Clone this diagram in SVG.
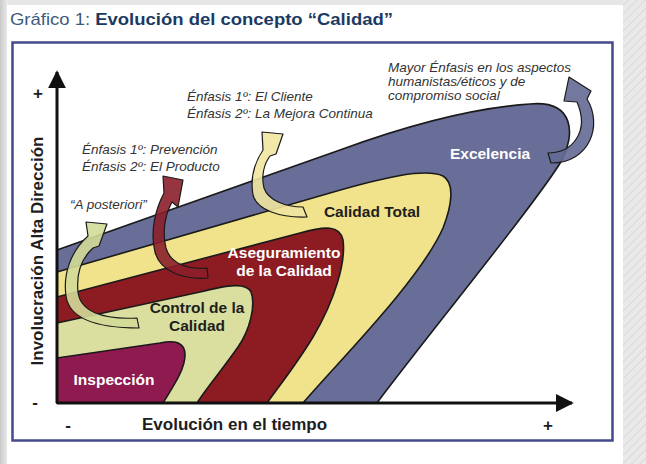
<svg xmlns="http://www.w3.org/2000/svg" width="646" height="464" viewBox="0 0 646 464">
<defs>
<linearGradient id="leftbg" x1="0" y1="0" x2="1" y2="0">
<stop offset="0" stop-color="#c9c9c9"/><stop offset="1" stop-color="#ededed"/>
</linearGradient>
<pattern id="hatch" width="6" height="6" patternUnits="userSpaceOnUse" patternTransform="rotate(45)">
<rect width="6" height="6" fill="#e9e9e9"/><line x1="0" y1="0" x2="0" y2="6" stroke="#d4d4d4" stroke-width="1.5"/>
</pattern>
<marker id="axhead" viewBox="0 0 10 10" refX="9" refY="5" markerWidth="6" markerHeight="6" markerUnits="strokeWidth" orient="auto">
<path d="M0,0 L10,5 L0,10 Z" fill="#111"/>
</marker>
<style>
.zone{stroke:#1a1a1a;stroke-width:1.6;stroke-linejoin:round}
.arr{stroke:#1a1a1a;stroke-width:1.2;stroke-linejoin:round;fill-opacity:0.9}
.lbl{font-family:"Liberation Sans",Arial,sans-serif;font-weight:bold;font-size:15.5px;text-anchor:middle}
.w{fill:#ffffff}
.d{fill:#1e1e1e}
.note{font-family:"Liberation Sans",Arial,sans-serif;font-style:italic;font-size:13.5px;fill:#333333}
.ax{font-family:"Liberation Sans",Arial,sans-serif;font-weight:bold;font-size:17px;fill:#1e1e1e}
</style>
</defs>
<rect width="646" height="464" fill="#e6e6e6"/>
<rect x="0" y="0" width="8" height="464" fill="url(#leftbg)"/>
<rect x="623" y="0" width="23" height="464" fill="url(#hatch)"/>
<rect x="7" y="5" width="616" height="459" fill="#ffffff"/>
<text x="10" y="25" font-family="Liberation Sans, Arial, sans-serif" font-size="17" fill="#3d5a7a" textLength="383" lengthAdjust="spacingAndGlyphs">Gráfico 1: <tspan font-weight="bold" fill="#1b3a63">Evolución del concepto “Calidad”</tspan></text>
<rect x="12.5" y="42.5" width="600" height="398" fill="#ffffff" stroke="#454a8a" stroke-width="2.5"/>

<g id="excelencia">
<path class="zone" fill="#686e97" d="M57,250 L340,150 C400,128 470,108 530,104 C575,100 575,135 562,160 C540,198 420,345 377,403 L57,403 Z"/>
<text class="lbl w" x="490" y="159">Excelencia</text>
</g>
<g id="calidad-total">
<path class="zone" fill="#f1e28c" d="M57,272 L330,193 C385,177 425,168 443,176 C455,183 452,205 443,228 C420,280 340,360 303,403 L57,403 Z"/>
<text class="lbl d" x="372" y="217">Calidad Total</text>
</g>
<g id="aseguramiento">
<path class="zone" fill="#8d1c22" d="M57,297 L300,233 C325,226 340,225 343,240 C346,262 335,300 313,337 C298,362 280,385 267,403 L57,403 Z"/>
<text class="lbl w" x="284" y="258">Aseguramiento</text>
<text class="lbl w" x="284" y="276">de la Calidad</text>
</g>
<g id="control">
<path class="zone" fill="#dadf9f" d="M57,323 L200,292 C228,285 246,282 251,292 C256,305 250,330 238,347 C222,370 205,390 197,403 L57,403 Z"/>
<text class="lbl d" x="197" y="313">Control de la</text>
<text class="lbl d" x="197" y="331">Calidad</text>
</g>
<g id="inspeccion">
<path class="zone" fill="#8e1a50" d="M57,358 L160,343 C175,340 185,342 185,355 C185,370 172,388 163,403 L57,403 Z"/>
<text class="lbl w" x="114" y="385">Inspección</text>
</g>

<g id="connectors">
<path class="arr" fill="#d3da98" d="M137,318 C100,320 80,310 78,292 C76,272 82,258 93,248 L99,246 L107,224 L86,222 L88,236 C70,252 63,275 66,296 C69,318 95,328 139,328 Z"/>
<path class="arr" fill="#8b1f2a" d="M207,268 C185,270 170,262 166,248 C162,232 165,215 172,202 L178,207 L183,180 L163,176 L164,193 C155,210 150,232 155,252 C160,272 185,280 208,278 Z"/>
<path class="arr" fill="#f0e6a0" d="M303,207 C285,207 268,200 264,188 C261,176 264,164 270,156 L276,154 L283,134 L262,132 L263,150 C255,162 250,178 253,195 C257,210 280,218 307,217 Z"/>
<path class="arr" fill="#646a94" d="M548,153 C572,153 590,132 577,102 L564,101 L569,77 L591,91 L587,99 C603,125 590,163 551,163 Z"/>
<line x1="57" y1="403" x2="57" y2="72" stroke="#111" stroke-width="3" marker-end="url(#axhead)"/>
<line x1="57" y1="403" x2="572" y2="403" stroke="#111" stroke-width="3" marker-end="url(#axhead)"/>
</g>

<text class="note" x="388" y="72">Mayor Énfasis en los aspectos</text>
<text class="note" x="388" y="86">humanistas/éticos y de</text>
<text class="note" x="388" y="100">compromiso social</text>
<text class="note" x="187" y="101">Énfasis 1º: El Cliente</text>
<text class="note" x="187" y="118">Énfasis 2º: La Mejora Continua</text>
<text class="note" x="82" y="154">Énfasis 1º: Prevención</text>
<text class="note" x="82" y="171">Énfasis 2º: El Producto</text>
<text class="note" x="70" y="209">“A posteriori”</text>

<text class="ax" x="142" y="430">Evolución en el tiempo</text>
<text class="ax" x="0" y="0" text-anchor="middle" transform="translate(43,251) rotate(-90)">Involucración Alta Dirección</text>
<text class="ax" x="38" y="99" text-anchor="middle">+</text>
<text class="ax" x="35" y="408" text-anchor="middle">-</text>
<text class="ax" x="68" y="431" text-anchor="middle">-</text>
<text class="ax" x="548" y="431" text-anchor="middle">+</text>
</svg>
